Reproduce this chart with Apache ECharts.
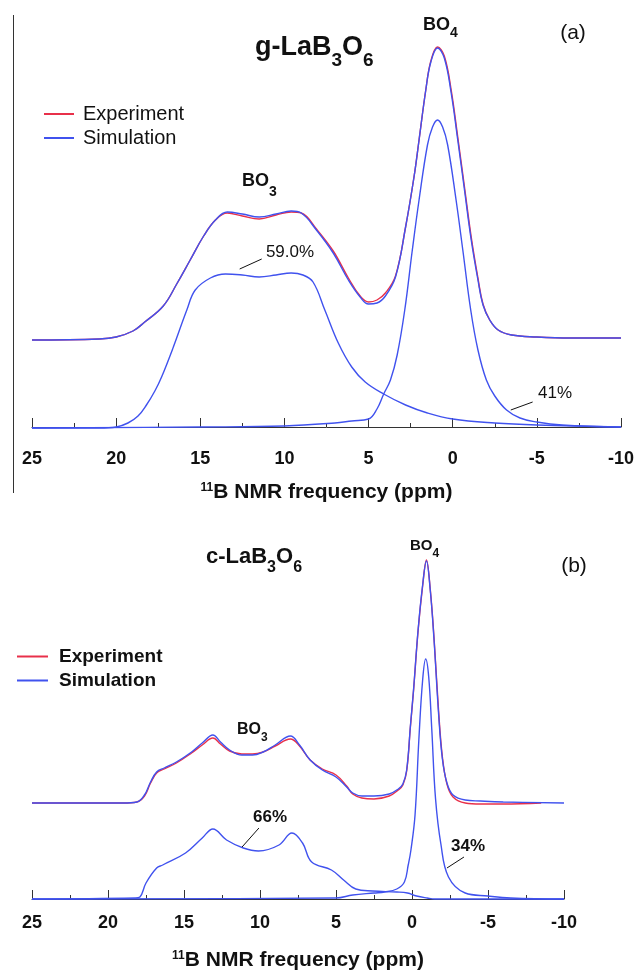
<!DOCTYPE html>
<html><head><meta charset="utf-8">
<script src="https://cdn.jsdelivr.net/npm/echarts@6/dist/echarts.min.js"></script>
<style>html,body{margin:0;padding:0;background:#fff}#c{width:637px;height:972px}</style>
</head><body><div id="c"></div>
<script>
// ---------- data (intensities in arbitrary units) ----------
const xTicks = [25, 20, 15, 10, 5, 0, -5, -10];

// panel (a) g-LaB3O6
const topTotalPpm = [25,21,20,19,18.3,17.2,16.4,15.6,14.8,14.1,13.4,12.5,11.5,10.5,9.6,9,8.1,7.1,6.2,5.5,5.0,4.5,4.0,3.4,2.8,2.3,2.0,1.6,1.3,0.9,0.5,0.1,-0.3,-0.7,-1.1,-1.5,-1.8,-2.2,-2.7,-3.5,-5,-7,-10];
const topSim = [87,88,90,96,105,121,143,167,191,207,215,213,210,213,216,214,197,174,147,130,123,124,131,150,200,250,287,337,365,379,369,335,287,237,187,147,122,107,97,92,90,89,89];
const topExp = [87,88,90,96,105,121,143,167,191,207,214,211,208,212,215,214,198,176,149,131,125,127,134,151,200,250,287,337,366,380,371,338,290,240,190,149,123,107,97,92,90,89,89];
const topBO3Ppm = [25,21,20,19.3,18.7,18.2,17.7,17.3,16.6,15.8,15.3,14.4,13.5,12.5,11.5,10.5,9.6,8.9,8.3,7.6,6.8,6.0,5.2,4.1,2.8,1.5,0,-2.5,-5,-10];
const topBO3 = [-1,-1,0,4,11,22,36,50,80,117,137,149,153,152,150,152,154,152,145,117,84,60,45,33,22,14,8,4,2,0];
const topBO4Ppm = [25,15,10,7,6,5,4.5,4.1,3.7,3.3,2.85,2.4,2.0,1.5,1.2,0.9,0.6,0.3,-0.2,-0.6,-1.07,-1.5,-2.0,-2.5,-3.2,-4,-5,-6.5,-10];
const topBO4 = [-1,0,1,4,6,8,18,33,47,72,117,177,227,282,300,307,300,282,227,177,117,77,47,31,17,9,5,2,0];

// panel (b) c-LaB3O6
const botTotalPpm = [25,19,18.1,17.6,17.2,16.8,16.3,15.5,14.5,13.8,13.1,12.6,12,11.2,10.5,9.8,9,8.0,7.4,6.7,5.9,5.0,4.3,3.9,3.3,2.5,1.5,0.9,0.6,0.35,0.1,-0.1,-0.4,-0.7,-0.95,-1.2,-1.45,-1.75,-2.0,-2.3,-2.7,-3.5,-4.5,-6,-10];
const botSim = [96,96,97,104,117,127,131,137,147,156,164,157,149,144,144,147,154,163,154,139,129,122,112,106,103,103,105,110,115,129,174,209,269,314,338,309,259,185,140,116,104,99,98,97,96];
const botExpPpm = [25,19,18.1,17.6,17.2,16.8,16.3,15.5,14.5,13.8,13.1,12.6,12,11.2,10.5,9.8,9,8.0,7.4,6.7,5.9,5.0,4.3,3.9,3.3,2.5,1.5,0.9,0.6,0.35,0.1,-0.1,-0.4,-0.7,-0.95,-1.2,-1.45,-1.75,-2.0,-2.3,-2.7,-3.5,-4.5,-6,-8.5];
const botExp = [96,96,97,103,116,126,130,136,146,154,161,155,148,145,145,147,153,160,153,139,130,124,113,105,101,100,103,109,114,128,173,208,268,313,339,310,261,188,142,115,102,96,95,95,96];
const botBO3Ppm = [25,18.2,17.9,17.5,16.8,16.4,14.9,13.8,13.1,12.2,11.1,10.1,8.75,7.9,7.2,6.6,5.3,4.5,3.7,2.6,1.0,0.3,-0.3,-1,-1.5,-10];
const botBO3 = [0,1,2,16,31,34,46,61,70,59,51,48,54,66,56,37,29,19,10,8,7,6,3,1,0,0];
const botBO4Ppm = [25,5,3.9,2.5,1.8,1.0,0.5,0.25,0.07,-0.2,-0.45,-0.7,-0.9,-1.1,-1.3,-1.55,-1.9,-2.4,-3.5,-5,-6.5,-10];
const botBO4 = [0,1,4,6,7,10,17,34,49,84,159,219,240,222,170,100,55,22,6,3,1,0];

// ---------- chart ----------
const FONT = '"Liberation Sans", Arial, Helvetica, sans-serif';
const RED = '#e8304a', BLUE = '#4052ee';
const zip = (xs, ys) => xs.map((x, i) => [x, ys[i]]);

function lineSeries(name, xi, xs, ys, color, extra) {
  return Object.assign({
    name: name, type: 'line', xAxisIndex: xi, yAxisIndex: xi,
    data: zip(xs, ys), showSymbol: false, symbol: 'none',
    smooth: 0.4,
    lineStyle: { color: color, width: 1.4 }, itemStyle: { color: color },
    animation: false, silent: true
  }, extra || {});
}
function pointer(a, b) {
  return { silent: true, symbol: 'none', animation: false,
    lineStyle: { color: '#111', width: 1, type: 'solid' }, label: { show: false },
    data: [[{ coord: a }, { coord: b }]] };
}

function xAxisDef(gi, nameGap) {
  return {
    gridIndex: gi, type: 'value', min: -10, max: 25, interval: 5, inverse: true,
    axisLine: { show: true, lineStyle: { color: '#333', width: 1 } },
    axisTick: { show: true, inside: true, length: 9, lineStyle: { color: '#333' } },
    minorTick: { show: true, splitNumber: 2, length: 4, lineStyle: { color: '#333' } },
    splitLine: { show: false },
    axisLabel: { fontFamily: FONT, fontSize: 18, fontWeight: 'bold', color: '#111', margin: 6,
      customValues: xTicks },
    name: '{sup|11}{m|B NMR frequency (ppm)}', nameLocation: 'middle', nameGap: nameGap,
    nameTextStyle: { fontFamily: FONT, fontWeight: 'bold', fontSize: 21, color: '#111',
      rich: {
        sup: { fontFamily: FONT, fontWeight: 'bold', fontSize: 12, lineHeight: 12, verticalAlign: 'top', color: '#111' },
        m: { fontFamily: FONT, fontWeight: 'bold', fontSize: 21, lineHeight: 24, verticalAlign: 'top', color: '#111' }
      } }
  };
}

function chem(parts, x, y, mainSize, mainLH, subSize, subPad) {
  let t = '';
  parts.forEach((p, i) => { t += (i % 2 === 0 ? '{m|' : '{s|') + p + '}'; });
  return { type: 'text', x: x, y: y, silent: true, style: {
    text: t, align: 'left', verticalAlign: 'top', fill: '#111',
    rich: {
      m: { fontFamily: FONT, fontWeight: 'bold', fontSize: mainSize, lineHeight: mainLH, verticalAlign: 'top', fill: '#111' },
      s: { fontFamily: FONT, fontWeight: 'bold', fontSize: subSize, lineHeight: subSize, padding: [subPad, 0, 0, 0], verticalAlign: 'top', fill: '#111' }
    } } };
}
function plain(text, x, y, size, weight) {
  return { type: 'text', x: x, y: y, silent: true, style: {
    text: text, align: 'center', verticalAlign: 'middle', fill: '#111',
    fontFamily: FONT, fontSize: size, fontWeight: weight || 'normal' } };
}

const option = {
  backgroundColor: '#fff',
  animation: false,
  grid: [
    { left: 32, right: 16, top: 20, bottom: 528 },
    { left: 32, right: 73, top: 520, bottom: 64 }
  ],
  xAxis: [xAxisDef(0, 38), xAxisDef(1, 42)],
  yAxis: [
    { gridIndex: 0, type: 'value', min: -17, max: 407, show: false },
    { gridIndex: 1, type: 'value', min: -9, max: 379, show: false }
  ],
  legend: [
    { left: 39, top: 99, orient: 'vertical', icon: 'rect', itemWidth: 30, itemHeight: 2, itemGap: 4,
      selectedMode: false, data: ['Experiment', 'Simulation'],
      textStyle: { fontFamily: FONT, fontSize: 20, color: '#111', padding: [0, 0, 0, 4] } },
    { left: 12, top: 642, orient: 'vertical', icon: 'rect', itemWidth: 31, itemHeight: 2, itemGap: 5,
      selectedMode: false, data: ['Experiment', 'Simulation'],
      textStyle: { fontFamily: FONT, fontSize: 19, fontWeight: 'bold', color: '#111', padding: [0, 0, 0, 6] } }
  ],
  series: [
    lineSeries('Experiment', 0, topTotalPpm, topExp, RED),
    lineSeries('Simulation', 0, topTotalPpm, topSim, BLUE),
    lineSeries('BO3 site (a)', 0, topBO3Ppm, topBO3, BLUE, { markLine: pointer([12.66, 158], [11.35, 168]) }),
    lineSeries('BO4 site (a)', 0, topBO4Ppm, topBO4, BLUE, { markLine: pointer([-3.45, 17], [-4.75, 25]) }),
    lineSeries('Experiment', 1, botExpPpm, botExp, RED),
    lineSeries('Simulation', 1, botTotalPpm, botSim, BLUE),
    lineSeries('BO3 site (b)', 1, botBO3Ppm, botBO3, BLUE, { markLine: pointer([11.18, 52], [10.07, 71]) }),
    lineSeries('BO4 site (b)', 1, botBO4Ppm, botBO4, BLUE, { markLine: pointer([-2.3, 31], [-3.42, 42]) })
  ],
  graphic: [
    { type: 'line', silent: true, shape: { x1: 13.5, y1: 15, x2: 13.5, y2: 493 }, style: { stroke: '#333', lineWidth: 1 } },
    chem(['g-LaB', '3', 'O', '6'], 255, 34, 27, 30, 19, 17),
    chem(['BO', '4'], 423, 16, 18, 20, 14, 10),
    chem(['BO', '3'], 242, 172, 18, 20, 14, 13),
    plain('(a)', 573, 33, 21),
    plain('59.0%', 290, 252, 17),
    plain('41%', 555, 393, 17),
    chem(['c-LaB', '3', 'O', '6'], 206, 546, 22, 24, 16, 14),
    chem(['BO', '4'], 410, 538, 15, 16, 12, 10),
    chem(['BO', '3'], 237, 722, 16, 18, 12, 10),
    plain('(b)', 574, 566, 21),
    plain('66%', 270, 817, 17, 'bold'),
    plain('34%', 468, 846, 17, 'bold')
  ]
};

const chart = echarts.init(document.getElementById('c'), null, { renderer: 'canvas', width: 637, height: 972 });
chart.setOption(option);
</script></body></html>
